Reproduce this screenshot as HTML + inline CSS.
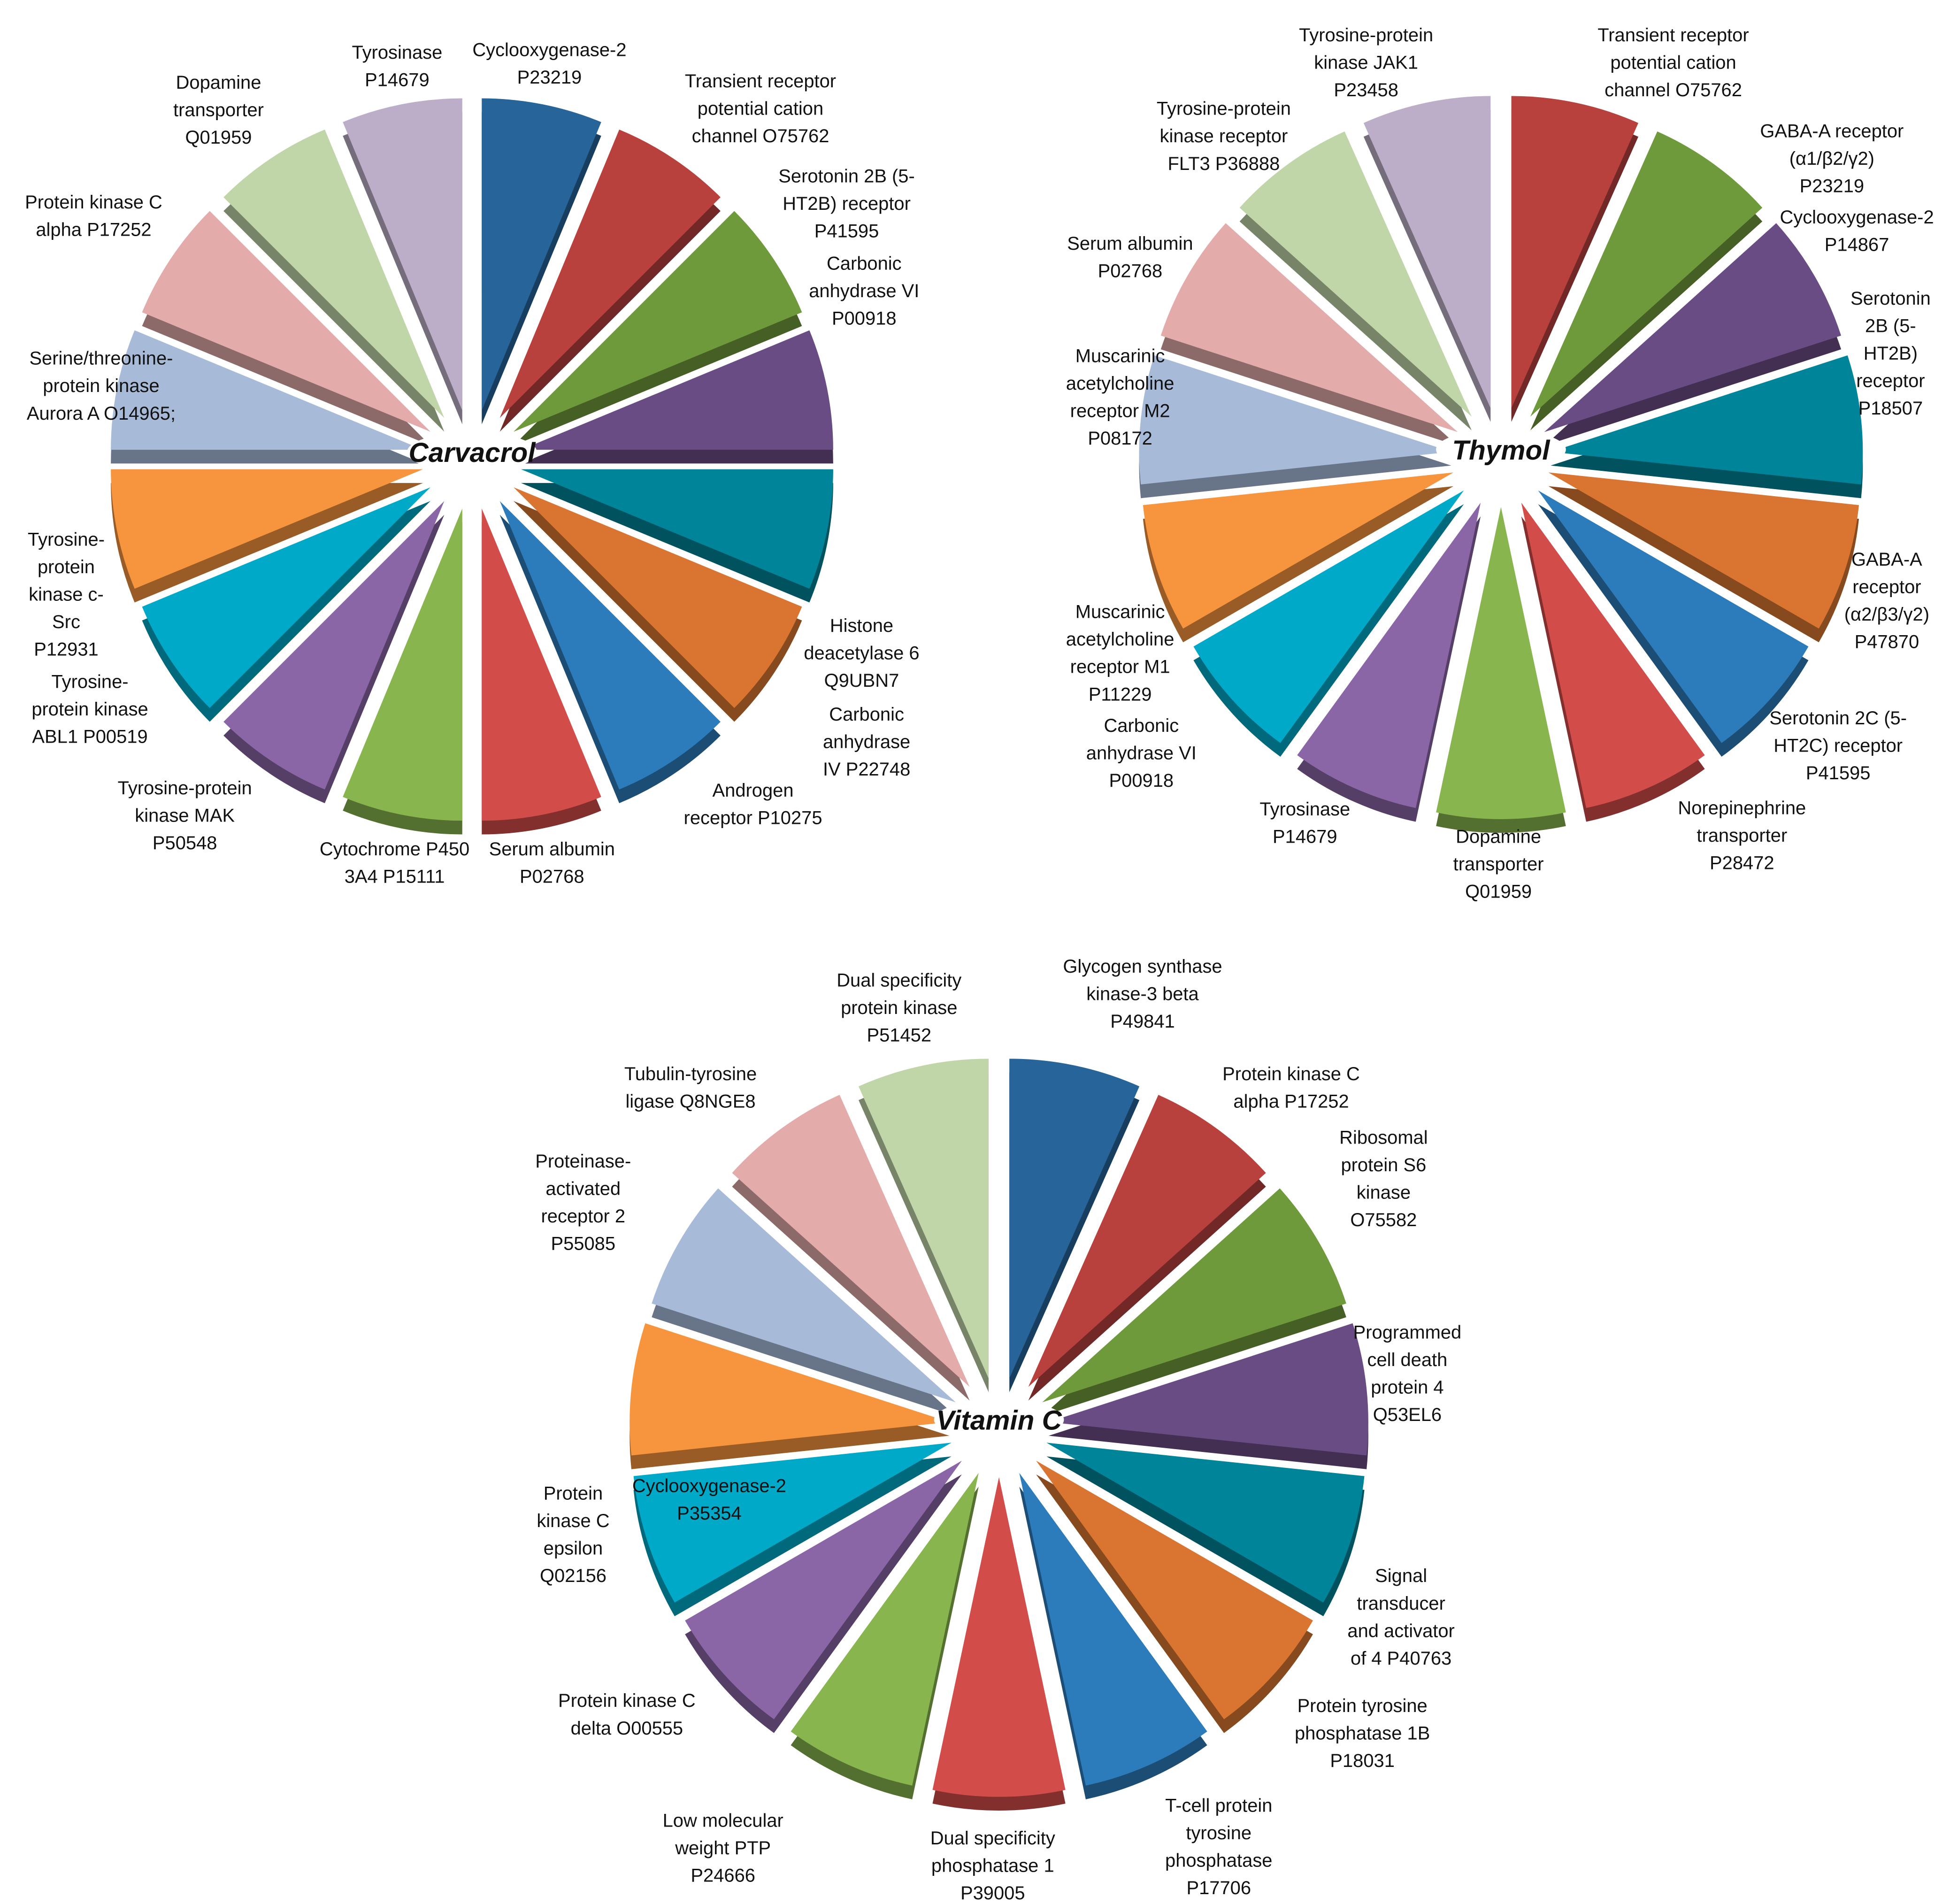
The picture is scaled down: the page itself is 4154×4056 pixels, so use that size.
<!DOCTYPE html>
<html><head><meta charset="utf-8"><style>
html,body{margin:0;padding:0;background:#fff}
svg{display:block}
text{font-family:"Liberation Sans",sans-serif;fill:#111}
</style></head><body>
<svg id="chart" width="4154" height="4056" viewBox="0 0 1561.6 1524.8" preserveAspectRatio="none" xmlns="http://www.w3.org/2000/svg"></svg>
<script>
// ---- Data ----
const carvacrolTargets = ["Cyclooxygenase-2 P23219","Transient receptor potential cation channel O75762","Serotonin 2B (5-HT2B) receptor P41595","Carbonic anhydrase VI P00918","Histone deacetylase 6 Q9UBN7","Carbonic anhydrase IV P22748","Androgen receptor P10275","Serum albumin P02768","Cytochrome P450 3A4 P15111","Tyrosine-protein kinase MAK P50548","Tyrosine-protein kinase ABL1 P00519","Tyrosine-protein kinase c-Src P12931","Serine/threonine-protein kinase Aurora A O14965","Protein kinase C alpha P17252","Dopamine transporter Q01959","Tyrosinase P14679"];
const carvacrolValues = [1,1,1,1,1,1,1,1,1,1,1,1,1,1,1,1];
const thymolTargets = ["Transient receptor potential cation channel O75762","GABA-A receptor (a1/b2/g2) P23219","Cyclooxygenase-2 P14867","Serotonin 2B (5-HT2B) receptor P18507","GABA-A receptor (a2/b3/g2) P47870","Serotonin 2C (5-HT2C) receptor P41595","Norepinephrine transporter P28472","Dopamine transporter Q01959","Tyrosinase P14679","Carbonic anhydrase VI P00918","Muscarinic acetylcholine receptor M1 P11229","Muscarinic acetylcholine receptor M2 P08172","Serum albumin P02768","Tyrosine-protein kinase receptor FLT3 P36888","Tyrosine-protein kinase JAK1 P23458"];
const thymolValues = [1,1,1,1,1,1,1,1,1,1,1,1,1,1,1];
const vitcTargets = ["Glycogen synthase kinase-3 beta P49841","Protein kinase C alpha P17252","Ribosomal protein S6 kinase O75582","Programmed cell death protein 4 Q53EL6","Signal transducer and activator of 4 P40763","Protein tyrosine phosphatase 1B P18031","T-cell protein tyrosine phosphatase P17706","Dual specificity phosphatase 1 P39005","Low molecular weight PTP P24666","Protein kinase C delta O00555","Cyclooxygenase-2 P35354","Protein kinase C epsilon Q02156","Proteinase-activated receptor 2 P55085","Tubulin-tyrosine ligase Q8NGE8","Dual specificity protein kinase P51452"];
const vitcValues = [1,1,1,1,1,1,1,1,1,1,1,1,1,1,1];

// ---- Styles / layout ----
const pal16 = ["#27649a","#b8413d","#6f9a3c","#6a4c84","#00849a","#d97530","#2c7cbc","#d24c4a","#88b54e","#8a66a6","#00a9c8","#f7953e","#a7bbd9","#e4abab","#c0d5a8","#bcaec8"];
const pal15 = ["#b8413d","#6f9a3c","#6a4c84","#00849a","#d97530","#2c7cbc","#d24c4a","#88b54e","#8a66a6","#00a9c8","#f7953e","#a7bbd9","#e4abab","#c0d5a8","#bcaec8"];
const pal15v = ["#27649a","#b8413d","#6f9a3c","#6a4c84","#00849a","#d97530","#2c7cbc","#d24c4a","#88b54e","#8a66a6","#00a9c8","#f7953e","#a7bbd9","#e4abab","#c0d5a8"];

const svg = document.getElementById('chart');
const NS = "http://www.w3.org/2000/svg";
function shade(hex, f){
  const n=parseInt(hex.slice(1),16);
  const r=Math.round(((n>>16)&255)*f), g=Math.round(((n>>8)&255)*f), b=Math.round((n&255)*f);
  return `rgb(${r},${g},${b})`;
}
function wedgePath(cx,cy,r,a0,a1){
  const p=a=>[cx+r*Math.sin(a), cy-r*Math.cos(a)];
  const s=p(a0), e=p(a1);
  const large=(a1-a0)>Math.PI?1:0;
  return `M${cx},${cy} L${s[0]},${s[1]} A${r},${r} 0 ${large} 1 ${e[0]},${e[1]} Z`;
}
function drawPie(name, values, targets, colors, cx, cy, r, explode, title){
  const g=document.createElementNS(NS,'g');
  
  
  svg.appendChild(g);
  const total=values.reduce((a,b)=>a+b,0);
  let acc=0;
  const depth=11;
  const slices=[];
  values.forEach((v,i)=>{
    const a0=acc/total*2*Math.PI; acc+=v; const a1=acc/total*2*Math.PI;
    const mid=(a0+a1)/2;
    slices.push({i,a0,a1,ox:cx+explode*Math.sin(mid),oy:cy-explode*Math.cos(mid)});
  });
  slices.forEach(s=>{
    const side=document.createElementNS(NS,'path');
    side.setAttribute('d', wedgePath(s.ox,s.oy+depth,r,s.a0,s.a1));
    side.setAttribute('fill', shade(colors[s.i%colors.length],0.62));
    
    
    g.appendChild(side);
  });
  slices.forEach(s=>{
    const p=document.createElementNS(NS,'path');
    p.setAttribute('d', wedgePath(s.ox,s.oy,r,s.a0,s.a1));
    p.setAttribute('fill', colors[s.i%colors.length]);
    
    
    const t=document.createElementNS(NS,'title'); t.textContent=targets[s.i]; p.appendChild(t);
    g.appendChild(p);
  });
  const bg=document.createElementNS(NS,'ellipse');
  bg.setAttribute('cx',cx); bg.setAttribute('cy',cy-6); bg.setAttribute('rx',52); bg.setAttribute('ry',16);
  bg.setAttribute('fill','#fff');
  
  
  g.appendChild(bg);
  const tt=document.createElementNS(NS,'text');
  tt.setAttribute('x',cx); tt.setAttribute('y',cy+2); tt.setAttribute('text-anchor','middle');
  tt.setAttribute('font-size','22'); tt.setAttribute('font-weight','bold'); tt.setAttribute('font-style','italic');
  tt.textContent=title;
  
  
  g.appendChild(tt);
}
drawPie('carvacrol', carvacrolValues, carvacrolTargets, pal16, 378, 368, 250, 40, 'Carvacrol');
drawPie('thymol', thymolValues, thymolTargets, pal15, 1202, 366, 250, 40, 'Thymol');
drawPie('vitamin-c', vitcValues, vitcTargets, pal15v, 800, 1143, 256, 40, 'Vitamin C');

// ---- Labels ----
const labelLines = [
 ["Cyclooxygenase-2","P23219"],["Tyrosinase","P14679"],["Dopamine","transporter","Q01959"],["Transient receptor","potential cation","channel O75762"],
 ["Serotonin 2B (5-","HT2B) receptor","P41595"],["Carbonic","anhydrase VI","P00918"],["Protein kinase C","alpha P17252"],["Serine/threonine-","protein kinase","Aurora A O14965;"],
 ["Histone","deacetylase 6","Q9UBN7"],["Tyrosine-","protein","kinase c-","Src","P12931"],["Tyrosine-","protein kinase","ABL1 P00519"],["Carbonic","anhydrase","IV P22748"],
 ["Androgen","receptor P10275"],["Tyrosine-protein","kinase MAK","P50548"],["Cytochrome P450","3A4 P15111"],["Serum albumin","P02768"],
 ["Tyrosine-protein","kinase JAK1","P23458"],["Transient receptor","potential cation","channel O75762"],["Tyrosine-protein","kinase receptor","FLT3 P36888"],["GABA-A receptor","(α1/β2/γ2)","P23219"],
 ["Cyclooxygenase-2","P14867"],["Serotonin","2B (5-","HT2B)","receptor","P18507"],["Serum albumin","P02768"],["Muscarinic","acetylcholine","receptor M2","P08172"],
 ["GABA-A","receptor","(α2/β3/γ2)","P47870"],["Muscarinic","acetylcholine","receptor M1","P11229"],["Serotonin 2C (5-","HT2C) receptor","P41595"],["Carbonic","anhydrase VI","P00918"],
 ["Norepinephrine","transporter","P28472"],["Tyrosinase","P14679"],["Dopamine","transporter","Q01959"],
 ["Dual specificity","protein kinase","P51452"],["Glycogen synthase","kinase-3 beta","P49841"],["Tubulin-tyrosine","ligase Q8NGE8"],["Protein kinase C","alpha P17252"],
 ["Ribosomal","protein S6","kinase","O75582"],["Proteinase-","activated","receptor 2","P55085"],["Programmed","cell death","protein 4","Q53EL6"],["Cyclooxygenase-2","P35354"],
 ["Protein","kinase C","epsilon","Q02156"],["Signal","transducer","and activator","of 4 P40763"],["Protein kinase C","delta O00555"],["Protein tyrosine","phosphatase 1B","P18031"],
 ["Low molecular","weight PTP","P24666"],["T-cell protein","tyrosine","phosphatase","P17706"],["Dual specificity","phosphatase 1","P39005"]
];
const labelPos = [
 [440,46],[318,48],[175,72],[609,71],[678,147],[692,217],[75,168],[81,293],[690,507],[53,438],[72,552],[694,578],[603,639],[148,637],[316,686],[442,686],
 [1094,34],[1340,34],[980,93],[1467,111],[1487,180],[1514,245],[905,201],[897,291],[1511,454],[897,496],[1472,581],[914,587],[1395,653],[1045,654],[1200,676],
 [720,791],[915,780],[553,866],[1034,866],[1108,917],[467,936],[1127,1073],[568,1196],[459,1202],[1122,1268],[502,1368],[1091,1372],[579,1464],[976,1452],[795,1478]
];
labelLines.forEach((lines,i)=>{
  const t=document.createElementNS(NS,'text');
  t.setAttribute('x',labelPos[i][0]); t.setAttribute('y',labelPos[i][1]-1);
  t.setAttribute('text-anchor','middle'); t.setAttribute('font-size','15');
  
  
  lines.forEach((ln,j)=>{
    const ts=document.createElementNS(NS,'tspan');
    ts.setAttribute('x',labelPos[i][0]); if(j>0) ts.setAttribute('dy','22');
    ts.textContent=ln; t.appendChild(ts);
  });
  svg.appendChild(t);
});
</script>
</body></html>
